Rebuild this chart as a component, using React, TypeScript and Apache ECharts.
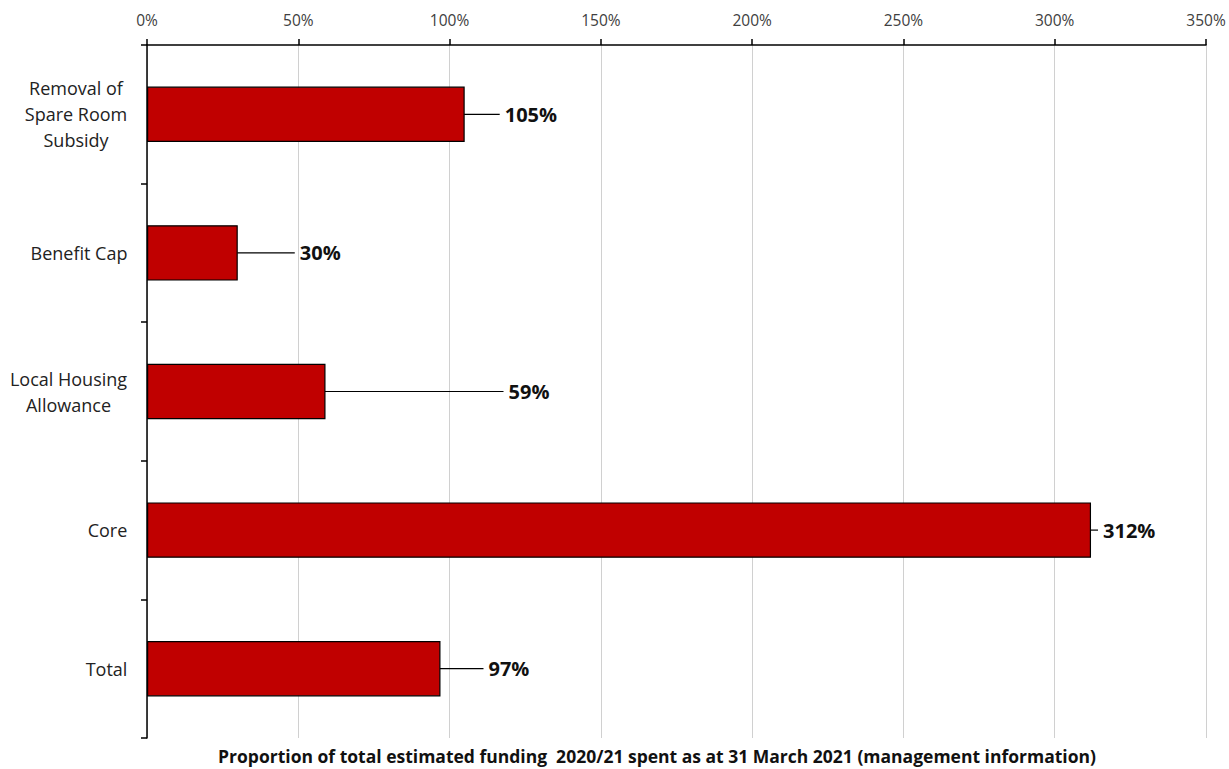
import React, { useEffect, useRef } from "react";
import * as echarts from "echarts";

const categories = [
  "Removal of\nSpare Room\nSubsidy",
  "Benefit Cap",
  "Local Housing\nAllowance",
  "Core",
  "Total",
];
const values = [105, 30, 59, 312, 97];
const labelShift = [31, 53, 174, 3, 39];
const xTicks = { min: 0, max: 350, interval: 50 };
const axisTitle =
  "Proportion of total estimated funding  2020/21 spent as at 31 March 2021 (management information)";

const FONT = "'Open Sans', 'Noto Sans', sans-serif";
const CAT_SIZE = 18;

export default function App() {
  const ref = useRef<HTMLDivElement>(null);
  useEffect(() => {
    document.body.style.margin = "0";
    const ctx = document.createElement("canvas").getContext("2d")!;
    ctx.font = `${CAT_SIZE}px 'Open Sans'`;
    const rich: Record<string, any> = {};
    const richName: string[] = [];
    categories.forEach((c, i) => {
      const lines = c.split("\n");
      const w = Math.max(...lines.map((l) => ctx.measureText(l).width));
      const name = "c" + i;
      rich[name] = {
        width: Math.ceil(w) + 1,
        align: "center",
        fontSize: CAT_SIZE,
        fontFamily: FONT,
        color: "#222",
        lineHeight: 26,
      };
      richName.push(name);
    });
    const chart = echarts.init(ref.current!, null, { renderer: "svg" });
    chart.setOption({
      animation: false,
      backgroundColor: "#ffffff",
      grid: { left: 147, right: 23, top: 45, bottom: 31, containLabel: false },
      xAxis: {
        type: "value",
        position: "top",
        min: xTicks.min,
        max: xTicks.max,
        interval: xTicks.interval,
        axisLine: { show: true, lineStyle: { color: "#000", width: 1.5 } },
        axisTick: { show: true, length: 6, inside: false, lineStyle: { color: "#000", width: 1.5 } },
        axisLabel: {
          formatter: "{value}%",
          color: "#404040",
          fontSize: 15.5,
          fontFamily: FONT,
          margin: 17,
        },
        splitLine: { show: true, lineStyle: { color: "#d0d0d0", width: 1 } },
      },
      yAxis: {
        type: "category",
        inverse: true,
        data: categories,
        axisLine: { show: true, lineStyle: { color: "#000", width: 1.5 } },
        axisTick: { show: true, length: 6, lineStyle: { color: "#000", width: 1.5 } },
        axisLabel: {
          color: "#222",
          fontSize: CAT_SIZE,
          fontFamily: FONT,
          lineHeight: 26,
          margin: 19,
          align: "right",
          formatter: (v: string, i: number) => {
            const idx = categories.indexOf(v);
            const n = richName[idx >= 0 ? idx : i];
            return v
              .split("\n")
              .map((l) => `{${n}|${l}}`)
              .join("\n");
          },
          rich,
        },
        splitLine: { show: false },
      },
      series: [
        {
          type: "bar",
          data: values,
          barWidth: "40%",
          itemStyle: { color: "#C00000", borderColor: "#000", borderWidth: 1.2 },
          label: {
            show: true,
            position: "right",
            distance: 4,
            formatter: "{s| }{v|{c}%}",
            fontSize: 20,
            fontWeight: "bold",
            fontFamily: FONT,
            color: "#111",
            rich: {
              s: { width: 5, fontSize: 20 },
              v: {
                fontSize: 20,
                fontWeight: "bold",
                fontFamily: FONT,
                color: "#111",
              },
            },
          },
          labelLine: { show: true, lineStyle: { color: "#000", width: 1.2 } },
          labelLayout: (params: any) => ({
            dx: labelShift[params.dataIndex],
          }),
        },
      ],
      graphic: [
        {
          type: "text",
          x: 657,
          y: 756,
          style: {
            text: axisTitle,
            fontSize: 17.5,
            fontWeight: "bold",
            fontFamily: FONT,
            fill: "#111",
            textAlign: "center",
            textVerticalAlign: "middle",
          },
        },
      ],
    });
    return () => chart.dispose();
  }, []);
  return <div ref={ref} style={{ width: 1229, height: 769 }} />;
}
